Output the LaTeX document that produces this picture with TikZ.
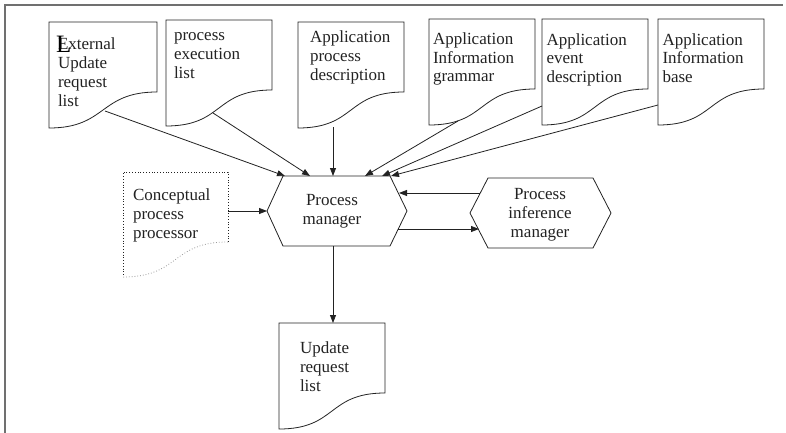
\documentclass[tikz,border=0pt]{standalone}
\usepackage{fontspec}
\setmainfont{Liberation Serif}
\usetikzlibrary{arrows.meta}
\definecolor{ink}{HTML}{222222}
\definecolor{framegray}{HTML}{707070}
\definecolor{dotgray}{HTML}{9A9A9A}

\tikzset{
  docnode/.style={draw=none, inner sep=0pt, outer sep=0pt, minimum width=106pt, minimum height=106pt, anchor=north west},
  hexnode/.style={draw=none, inner sep=0pt, outer sep=0pt, minimum width=#1, minimum height=70pt},
  txt/.style={inner sep=0pt, outer sep=0pt, anchor=north west, align=left, text=ink, font=\fontsize{17}{19}\selectfont},
  ctxt/.style={txt, anchor=north, align=center},
  outline/.style={draw=ink, line width=0.8pt},
  arr/.style={draw=ink, line width=0.8pt, -{Triangle[length=8pt,width=6pt]}},
  frameline/.style={draw=framegray, line width=1.6pt},
}

% page outline with a wavy bottom edge
\newcommand\docoutline[2][]{%
  \draw[outline,#1] (#2.north west) -- (#2.north east) -- ([yshift=36pt]#2.south east)
    .. controls ([shift={(-58pt,36pt)}]#2.south east) and ([shift={(58pt,0pt)}]#2.south west)
    .. (#2.south west) -- cycle;}

% hexagon drawn over a node: name, left depth, right depth
\newcommand\hexoutline[3]{%
  \draw[outline] ([xshift=#2]#1.north west) -- ([xshift=-#3]#1.north east) -- (#1.east)
    -- ([xshift=-#3]#1.south east) -- ([xshift=#2]#1.south west) -- (#1.west) -- cycle;}

\begin{document}
\begin{tikzpicture}[x=1pt, y=-1pt]
\useasboundingbox (0,0) rectangle (786,433);

% frame lines
\draw[frameline] (5,433) -- (5,5) -- (783,5);

% input documents
\node[docnode, minimum width=108pt] (d1) at (49,22) {};
\node[docnode] (d2) at (166,20) {};
\node[docnode] (d3) at (298,22) {};
\node[docnode] (d4) at (429,19) {};
\node[docnode] (d5) at (542,19) {};
\node[docnode] (d6) at (658,19) {};
\foreach \d in {d1,d2,d3,d4,d5,d6} {\docoutline{\d}}

\node[txt] (t1) at (58,36.2) {\strut External\\Update\\request\\list};
\node[inner sep=0pt, anchor=base west, font=\fontsize{25}{25}\selectfont, text=black] (bigL) at (56,53) {L};
\node[txt] (t2) at (174,27.4) {\strut process\\execution\\list};
\node[txt] (t3) at (310,29) {\strut Application\\process\\description};
\node[txt, font=\fontsize{17}{18.5}\selectfont] (t4) at (433,31.7) {\strut Application\\Information\\grammar};
\node[txt, font=\fontsize{17}{18.5}\selectfont] (t5) at (546.5,32.4) {\strut Application\\event\\description};
\node[txt, font=\fontsize{17}{18.5}\selectfont] (t6) at (662.5,32.4) {\strut Application\\Information\\base};

% conceptual processor (dotted page)
\node[docnode, minimum width=105pt, minimum height=105pt] (cp) at (123,172) {};
\draw[ink, dotted, line width=0.8pt] ([yshift=35pt]cp.south east) -- (cp.north east) -- (cp.north west) -- (cp.south west);
\draw[dotgray, dotted, line width=0.8pt] ([yshift=35pt]cp.south east)
  .. controls ([shift={(-57pt,35pt)}]cp.south east) and ([shift={(57pt,0pt)}]cp.south west) .. (cp.south west);
\node[txt] (tcp) at (133,186.7) {\strut Conceptual\\process\\processor};

% process manager
\node[hexnode=140pt] (pm) at (337,211) {};
\hexoutline{pm}{16pt}{17pt}
\node[ctxt] (tpm) at (332,191.7) {\strut Process\\manager};

% process inference manager
\node[hexnode=141pt] (pim) at (540.5,213) {};
\hexoutline{pim}{18pt}{18pt}
\node[ctxt] (tpim) at (540,186) {\strut Process\\inference\\manager};

% output document
\node[docnode] (ur) at (279,323) {};
\docoutline{ur}
\node[txt] (tur) at (300,340.2) {\strut Update\\request\\list};

% connector end points
\coordinate (o1) at ([shift={(56pt,17pt)}]d1.south west);
\coordinate (o2) at ([shift={(47pt,13pt)}]d2.south west);
\coordinate (o3) at ([shift={(35pt,1pt)}]d3.south west);
\coordinate (o4) at ([shift={(29pt,4pt)}]d4.south west);
\coordinate (o5) at ([yshift=19pt]d5.south west);
\coordinate (o6) at ([yshift=20pt]d6.south west);
\coordinate (o7) at ([yshift=-39pt]cp.north east);

\draw[arr] (o1) -- ([xshift=18pt]pm.north west);
\draw[arr] (o2) -- ([xshift=43pt]pm.north west);
\draw[arr] (o3) -- ([xshift=66pt]pm.north west);
\draw[arr] (o4) -- ([xshift=98pt]pm.north west);
\draw[arr] (o5) -- ([xshift=115pt]pm.north west);
\draw[arr] (o6) -- ([xshift=124pt]pm.north west);
\draw[arr] (o7) -- (pm.west);
\draw[arr] ([shift={(10pt,20pt)}]pim.west) -- ([shift={(-8pt,18pt)}]pm.east);
\draw[arr] ([shift={(-9pt,-18pt)}]pm.east) -- ([shift={(9pt,-16pt)}]pim.west);
\draw[arr] ([xshift=-4pt]pm.south) -- ([xshift=-4pt]pm.south |- ur.north);
\end{tikzpicture}
\end{document}
